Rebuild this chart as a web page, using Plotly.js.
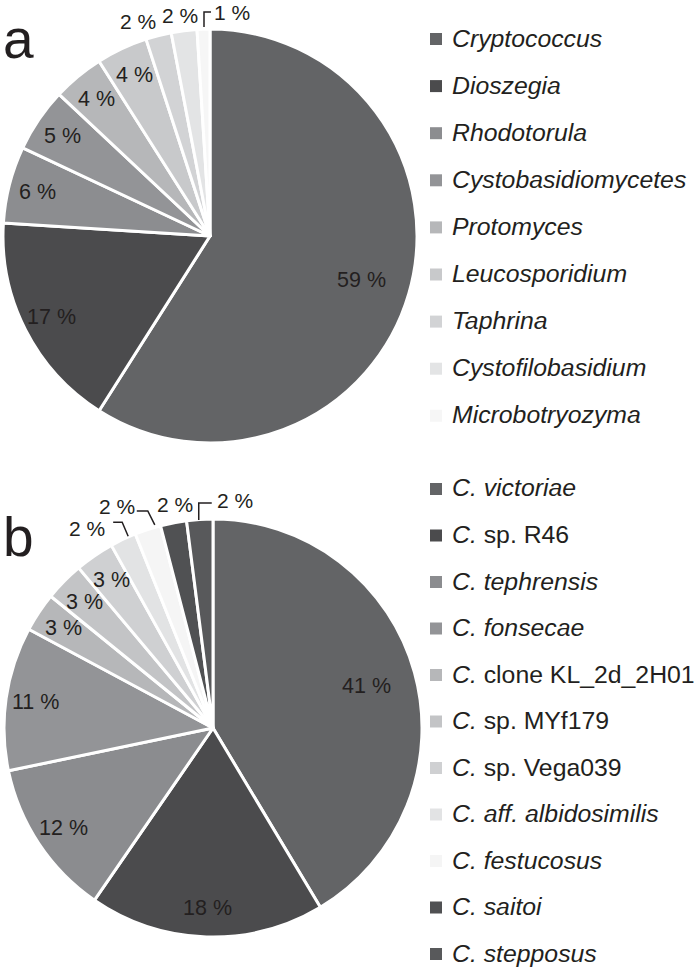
<!DOCTYPE html>
<html>
<head>
<meta charset="utf-8">
<script src="https://cdn.plot.ly/plotly-3.0.1.min.js"></script>
<style>html,body{margin:0;padding:0;background:#fff;}#chart{width:697px;height:971px;}</style>
</head>
<body>
<div id="chart"></div>
<script>
// ---- Data ----
const labelsA = ['<i>Cryptococcus</i>', '<i>Dioszegia</i>', '<i>Rhodotorula</i>', '<i>Cystobasidiomycetes</i>',
  '<i>Protomyces</i>', '<i>Leucosporidium</i>', '<i>Taphrina</i>', '<i>Cystofilobasidium</i>', '<i>Microbotryozyma</i>'];
const valuesA = [59, 17, 6, 5, 4, 4, 2, 2, 1];
const colorsA = ['#636466', '#4b4b4d', '#8c8d90', '#939497', '#b6b7b9', '#c8c9cb', '#d2d3d5', '#e3e4e5', '#f6f6f6'];

const labelsB = ['<i>C. victoriae</i>', '<i>C.</i> sp. R46', '<i>C. tephrensis</i>', '<i>C. fonsecae</i>',
  '<i>C.</i> clone KL_2d_2H01', '<i>C.</i> sp. MYf179', '<i>C.</i> sp. Vega039', '<i>C. aff. albidosimilis</i>',
  '<i>C. festucosus</i>', '<i>C. saitoi</i>', '<i>C. stepposus</i>'];
const valuesB = [41, 18, 12, 11, 3, 3, 3, 2, 2, 2, 2];
const colorsB = ['#636466', '#4b4b4d', '#8b8c8f', '#939497', '#b6b7b9', '#c3c4c6', '#cfd0d2', '#e2e3e4', '#f5f5f5', '#505153', '#58595b'];

const panelLetters = ['a', 'b'];

// ---- Layout / style (pixels) ----
const W = 697, H = 971;
const px = x => x / W;
const py = y => 1 - y / H;
const font = '"Liberation Sans", Arial, Helvetica, sans-serif';
const textCol = '#231f20';

// geometry of each pie (pixel centre and radius)
const pieA = {cx: 210, cy: 236, r: 207};
const pieB = {cx: 213, cy: 728, r: 209};

// placement of labels for slices drawn outside the pie: text centre offset from the
// slice's rim point, plus optional leader path (offsets from the same rim point)
const outsideA = {
  6: {t: [-21, -14]},
  7: {t: [-4, -15]},
  8: {t: [29, -17], lead: [[0.5, -2], [0.5, -17], [7.5, -17]]}
};
const outsideB = {
  7: {t: [-36, -11], lead: [[5, -3], [-1, -17], [-10, -17]]},
  8: {t: [-31, -23], lead: [[7, -4.5], [0, -18.5], [-11, -18.5]]},
  9: {t: [1.5, -18]},
  10: {t: [35, -18.5], lead: [[-1, 0.5], [-1, -16.5], [12, -16.5]]}
};

function pieTrace(labels, values, colors, g) {
  return {
    type: 'pie',
    labels: labels,
    values: values,
    textinfo: 'none',
    marker: {colors: colors, line: {color: '#ffffff', width: 3}},
    sort: false,
    direction: 'clockwise',
    rotation: 0,
    hoverinfo: 'none',
    showlegend: false,
    domain: {x: [px(g.cx - g.r), px(g.cx + g.r)], y: [py(g.cy + g.r), py(g.cy - g.r)]}
  };
}

const traces = [
  pieTrace(labelsA, valuesA, colorsA, pieA),
  pieTrace(labelsB, valuesB, colorsB, pieB)
];

const annotations = [];
const shapes = [];

// percentage labels, positioned from the slice angles
function sliceLabels(values, g, outside) {
  const total = values.reduce((a, b) => a + b, 0);
  let cum = 0;
  values.forEach((v, i) => {
    const mid = (cum + v / 2) / total * 2 * Math.PI; // clockwise from 12 o'clock
    cum += v;
    const sx = Math.sin(mid), sy = -Math.cos(mid);
    const txt = v + ' %';
    if (outside[i]) {
      const ex = g.cx + sx * g.r, ey = g.cy + sy * g.r;
      const o = outside[i];
      annotations.push({text: txt, x: px(ex + o.t[0]), y: py(ey + o.t[1]), xref: 'paper', yref: 'paper',
        xanchor: 'center', yanchor: 'middle', showarrow: false,
        font: {family: font, size: 21, color: textCol}});
      if (o.lead) {
        const path = o.lead.map((p, k) => (k ? 'L' : 'M') + px(ex + p[0]) + ',' + py(ey + p[1])).join(' ');
        shapes.push({type: 'path', xref: 'paper', yref: 'paper', path: path,
          line: {color: textCol, width: 1.5}});
      }
    } else {
      const k = v > 30 ? 0.76 : 0.86;
      annotations.push({text: txt, x: px(g.cx + sx * g.r * k), y: py(g.cy + sy * g.r * k),
        xref: 'paper', yref: 'paper', xanchor: 'center', yanchor: 'middle', showarrow: false,
        font: {family: font, size: 21.5, color: textCol}});
    }
  });
}
sliceLabels(valuesA, pieA, outsideA);
sliceLabels(valuesB, pieB, outsideB);

// panel letters
[[panelLetters[0], 60], [panelLetters[1], 558]].forEach(([t, base]) => {
  annotations.push({text: t, x: px(1), y: py(base), xref: 'paper', yref: 'paper',
    xanchor: 'left', yanchor: 'bottom', showarrow: false,
    font: {family: font, size: 55, color: textCol}, yshift: -12});
});

// legends
function legend(labels, colors, y0, step) {
  labels.forEach((lab, i) => {
    const yc = y0 + step * i;
    shapes.push({type: 'rect', xref: 'paper', yref: 'paper',
      x0: px(430), x1: px(442), y0: py(yc + 6), y1: py(yc - 6),
      fillcolor: colors[i], line: {width: 0}});
    annotations.push({text: lab, x: px(450), y: py(yc), xref: 'paper', yref: 'paper',
      xanchor: 'left', yanchor: 'middle', showarrow: false,
      font: {family: font, size: 24.8, color: textCol}, yshift: 1});
  });
}
legend(labelsA, colorsA, 39, 47.1);
legend(labelsB, colorsB, 489, 46.5);

Plotly.newPlot('chart', traces, {
  width: W, height: H,
  margin: {l: 0, r: 0, t: 0, b: 0},
  paper_bgcolor: '#ffffff',
  annotations: annotations,
  shapes: shapes
}, {staticPlot: true});
</script>
</body>
</html>
